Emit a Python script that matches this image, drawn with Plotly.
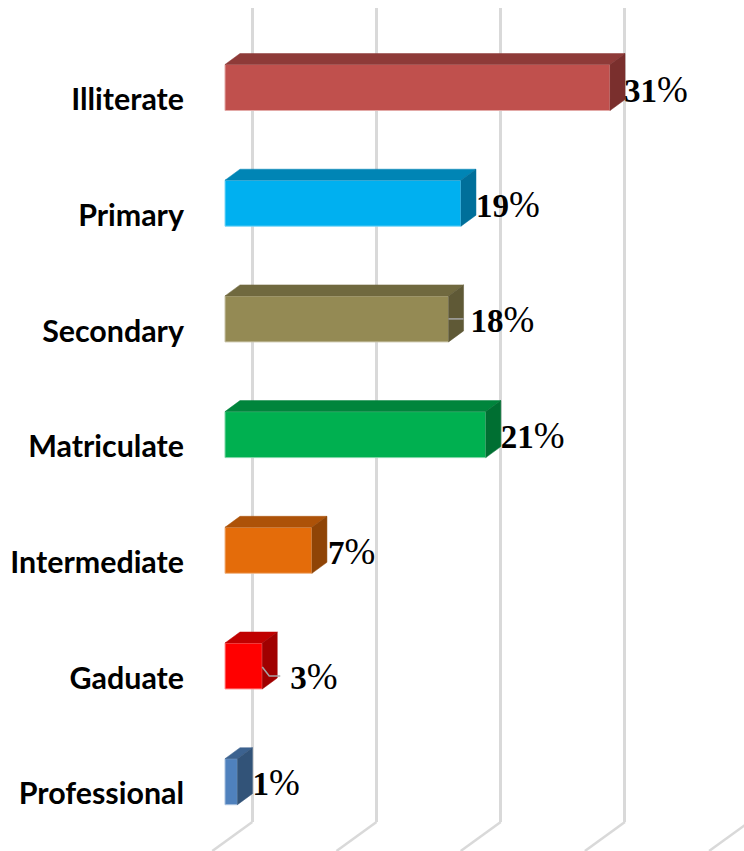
import plotly.graph_objects as go

categories = ["Illiterate", "Primary", "Secondary", "Matriculate", "Intermediate", "Gaduate", "Professional"]
values = [31, 19, 18, 21, 7, 3, 1]
labels = ["31", "19", "18", "21", "7", "3", "1"]
front_colors = ["#C0504D", "#00B0F0", "#948A54", "#00B050", "#E46C0A", "#FF0000", "#4F81BD"]
top_colors = ["#8E3A38", "#0085B5", "#70693F", "#00853C", "#AD5208", "#C00000", "#3C628F"]
side_colors = ["#7A2F2D", "#006F9A", "#5F5936", "#006F32", "#8F4406", "#A00000", "#325378"]
border_colors = ["#E3A9A7", "#7FD7F7", "#C9C4A9", "#7FD7A7", "#F1B584", "#FF9999", "#A7C0DE"]

# Pixel-to-data factors, used only for the 3-D extrusion and label placement
PX_X = 12.42
PX_Y = 115.7
BAR_WIDTH = 46 / PX_Y
DX = 15 / PX_X
DY = 11 / PX_Y
WALL_DX = 27.3 / PX_X
FLOOR_DX = 40 / PX_X

label_dx = [14, 15, 22, 15, 16, 28, 15]
label_dy = [6, 6, 5, 5, 5, 15, 5]
tick_dy = 12 / PX_Y

fig = go.Figure()

ys = list(range(len(categories)))

# Front faces
fig.add_trace(go.Bar(
    x=values, y=ys, orientation="h", width=BAR_WIDTH,
    marker=dict(color=front_colors, line=dict(color=border_colors, width=1)),
    showlegend=False, hoverinfo="skip",
))

# Top and side faces
for i, v in enumerate(values):
    t = i - BAR_WIDTH / 2
    b = i + BAR_WIDTH / 2
    fig.add_trace(go.Scatter(
        x=[0, DX, v + DX, v, 0], y=[t, t - DY, t - DY, t, t],
        mode="lines", fill="toself", fillcolor=top_colors[i],
        line=dict(color=top_colors[i], width=0.5), showlegend=False, hoverinfo="skip",
    ))
    fig.add_trace(go.Scatter(
        x=[v, v + DX, v + DX, v, v], y=[t, t - DY, b - DY, b, t],
        mode="lines", fill="toself", fillcolor=side_colors[i],
        line=dict(color=side_colors[i], width=0.5), showlegend=False, hoverinfo="skip",
    ))

# Leader lines for the two labels pushed away from their bars
fig.add_trace(go.Scatter(
    x=[18, 18 + 15 / PX_X], y=[2, 2], mode="lines",
    line=dict(color="#A6A6A6", width=1.5), showlegend=False, hoverinfo="skip",
))
fig.add_trace(go.Scatter(
    x=[3, 3 + 7 / PX_X, 3 + 18 / PX_X], y=[5 + 1 / PX_Y, 5 + 10 / PX_Y, 5 + 10 / PX_Y], mode="lines",
    line=dict(color="#A6A6A6", width=1.5), showlegend=False, hoverinfo="skip",
))

# Data labels: bold digits with a larger, lighter percent sign
fig.add_trace(go.Scatter(
    x=[v + d / PX_X for v, d in zip(values, label_dx)],
    y=[i + d / PX_Y for i, d in zip(ys, label_dy)],
    text=[s + '<span style="font-size:37px;font-weight:normal">%</span>' for s in labels],
    mode="text", textposition="middle right",
    textfont=dict(family="Liberation Serif", size=33, color="#000000", weight="bold"),
    cliponaxis=False, showlegend=False, hoverinfo="skip",
))

# Floor part of the gridlines
shapes = []
for k in range(0, 50, 10):
    shapes.append(dict(
        type="line", xref="x", yref="paper", layer="below",
        x0=k + WALL_DX, y0=0, x1=k + WALL_DX - FLOOR_DX, y1=-29 / 814,
        line=dict(color="#D9D9D9", width=2.5),
    ))

fig.update_layout(
    width=744, height=851,
    margin=dict(l=190, r=0, t=8, b=29, pad=0),
    paper_bgcolor="#FFFFFF", plot_bgcolor="#FFFFFF",
    showlegend=False, shapes=shapes,
    xaxis=dict(
        range=[-35 / PX_X, 519 / PX_X], tick0=WALL_DX, dtick=10, showticklabels=False,
        showgrid=True, gridcolor="#D9D9D9", gridwidth=3, zeroline=False, showline=False, ticks="",
    ),
    yaxis=dict(
        range=[734.5 / PX_Y, -79.5 / PX_Y],
        tickmode="array", tickvals=[i + tick_dy for i in ys], ticktext=categories,
        tickfont=dict(family="Lato", size=30.4, color="#000000", weight="bold"),
        showgrid=False, zeroline=False, showline=False,
        ticks="", ticklabelstandoff=5,
    ),
)

fig.write_html("out.html", post_script="document.body.style.margin='0';",
               config={"displayModeBar": False})
